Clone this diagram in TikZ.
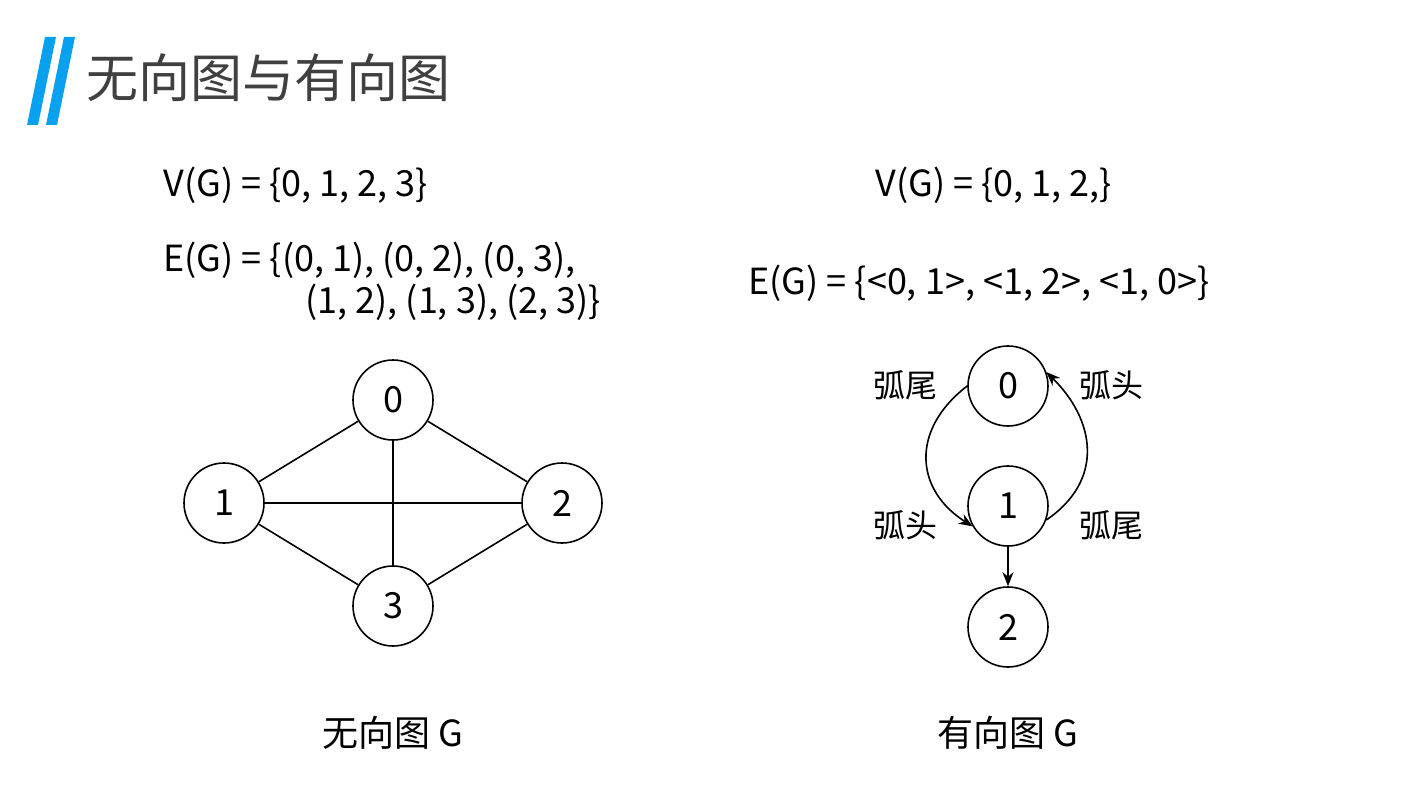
\documentclass[tikz,border=0pt]{standalone}
\usepackage{fontspec}
\setmainfont{Noto Sans CJK SC}
\usetikzlibrary{arrows.meta}
\definecolor{logo}{HTML}{0AA0F0}
\begin{document}
\begin{tikzpicture}[x=0.5pt,y=-0.5pt,
  vtx/.style={circle,draw,line width=0.8pt,minimum size=40pt,inner sep=0pt,font=\fontsize{18}{20}\selectfont},
  txt/.style={font=\fontsize{18}{20}\selectfont,inner sep=0pt},
  lab/.style={font=\fontsize{16}{17}\selectfont,inner sep=0pt},
  edge/.style={line width=0.8pt},
  arc/.style={line width=0.8pt,-{Stealth[length=7pt,width=5.5pt]}}]
\useasboundingbox (0,0) rectangle (1409,808);
\fill[white] (0,0) rectangle (1409,808);
\fill[logo] (45,37) -- (56,37) -- (38,125) -- (27,125) -- cycle;
\fill[logo] (64,37) -- (75,37) -- (57,125) -- (46,125) -- cycle;
\node[anchor=west,inner sep=0pt,font=\fontsize{26}{28}\selectfont,text=black!75] (title) at (86,78) {无向图与有向图};
\node[txt,anchor=west] (v1) at (163,185) {V(G) = \{0, 1, 2, 3\}};
\node[txt,anchor=west] (e1) at (163,260) {E(G) = \{(0, 1), (0, 2), (0, 3),};
\node[txt,anchor=west] (e1b) at (305,302) {(1, 2), (1, 3), (2, 3)\}};
\node[txt,anchor=west] (v2) at (875,185) {V(G) = \{0, 1, 2,\}};
\node[txt,anchor=west] (e2) at (748,283) {E(G) = \{<0, 1>, <1, 2>, <1, 0>\}};
\node[vtx] (a0) at (393,400) {0};
\node[vtx] (a1) at (224,503) {1};
\node[vtx] (a2) at (562,503) {2};
\node[vtx] (a3) at (393,606) {3};
\draw[edge] (a0)--(a1) (a0)--(a2) (a0)--(a3) (a1)--(a2) (a1)--(a3) (a2)--(a3);
\node[vtx] (b0) at (1008,386) {0};
\node[vtx] (b1) at (1008,506) {1};
\node[vtx] (b2) at (1008,627) {2};
\draw[arc] (b0.180) .. controls (910,430) and (915,490) .. (b1.210);
\draw[arc] (b1.-20) .. controls (1105,480) and (1095,420) .. (b0.20);
\draw[arc] (b1)--(b2);
\node[lab] (l1) at (905,385) {弧尾};
\node[lab] (l2) at (1111,385) {弧头};
\node[lab] (l3) at (905,525) {弧头};
\node[lab] (l4) at (1111,525) {弧尾};
\node[txt] (c1) at (393,733) {无向图 G};
\node[txt] (c2) at (1008,733) {有向图 G};
\end{tikzpicture}
\end{document}
